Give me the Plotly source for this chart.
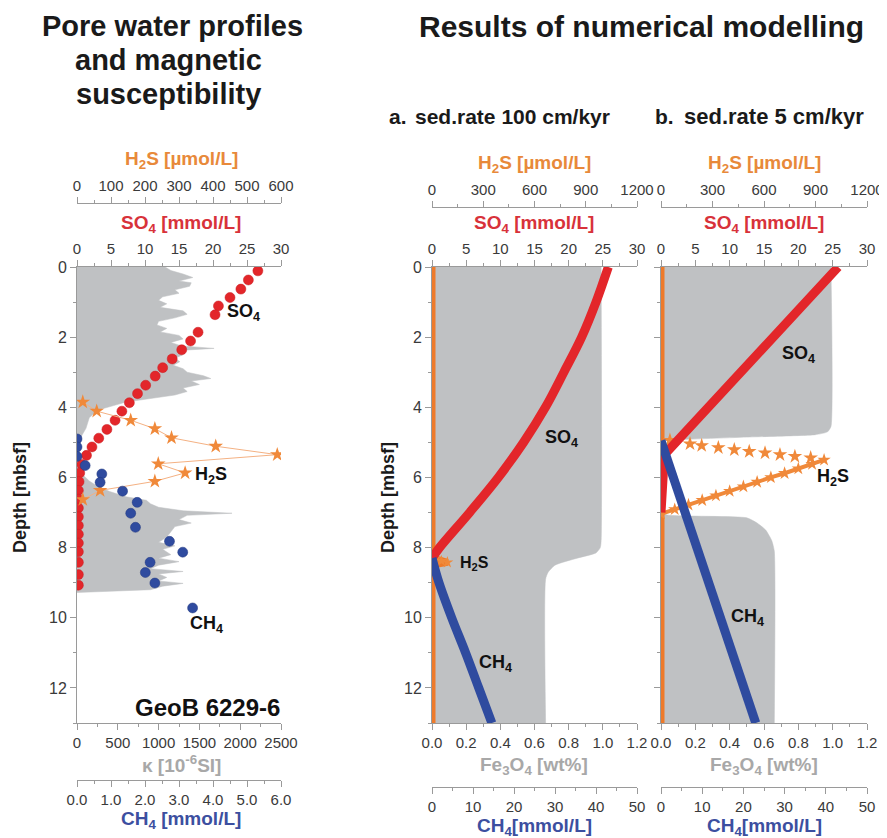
import plotly.graph_objects as go

# The page body has an 8 px margin; positions below are in window pixels, shifted by that offset
OFF = 8
W, H = 887, 838
FONT = "Liberation Sans, Arial, sans-serif"

def fx(px):
    return (px - OFF) / W

def fy(py):
    return 1 - (py - OFF) / H

# ---------------- data: measured core GeoB 6229-6 ----------------
kappa_depth = [0.00, 0.10, 0.20, 0.30, 0.40, 0.45, 0.55, 0.65, 0.75, 0.85, 0.95, 1.05, 1.15, 1.25,
               1.35, 1.45, 1.55, 1.65, 1.75, 1.85, 1.95, 2.05, 2.15, 2.25, 2.32, 2.38, 2.50, 2.60,
               2.70, 2.80, 2.90, 3.00, 3.10, 3.18, 3.25, 3.35, 3.45, 3.55, 3.65, 3.75, 3.85, 3.95,
               4.05, 4.15, 4.30, 4.45, 4.60, 4.80, 5.00, 5.30, 5.60, 5.90, 6.10, 6.25, 6.40, 6.55,
               6.65, 6.75, 6.85, 6.95, 7.02, 7.08, 7.20, 7.30, 7.40, 7.55, 7.70, 7.85, 7.95, 8.05,
               8.20, 8.30, 8.40, 8.50, 8.60, 8.68, 8.75, 8.85, 8.95, 9.02, 9.10, 9.20, 9.28]
kappa_value = [1080, 1150, 1300, 1420, 1250, 1400, 1380, 1200, 1250, 1050, 1000, 1100, 1020, 1300,
               1350, 1200, 1000, 980, 1100, 1020, 1250, 1300, 1150, 1280, 1680, 1250, 1300, 1200,
               1260, 1180, 1300, 1350, 1550, 1640, 1400, 1500, 1300, 1350, 1200, 900, 600, 450,
               300, 220, 150, 130, 110, 60, 40, 30, 40, 60, 150, 250, 400, 600,
               850, 900, 1000, 1300, 1900, 1350, 1250, 1400, 1200, 1150, 1100, 1000, 1200, 1050,
               1150, 1000, 1250, 1000, 900, 1300, 1000, 1100, 1000, 1300, 1050, 900, 0]

so4_depth = [0.11, 0.37, 0.63, 0.87, 1.11, 1.36, 1.86, 2.11, 2.36, 2.62, 2.87, 3.11, 3.37, 3.61,
             3.87, 4.11, 4.37, 4.63, 4.88, 5.13, 5.37, 5.63, 5.87, 6.12, 6.37, 6.62, 6.87, 7.12,
             7.37, 7.62, 7.87, 8.12, 8.42, 8.77, 9.07]
so4_value = [26.6, 25.2, 24.1, 22.5, 20.8, 20.3, 17.8, 16.7, 15.4, 14.0, 12.6, 11.5, 10.1, 8.9,
             7.7, 6.6, 5.6, 4.4, 3.2, 2.2, 1.4, 0.7, 0.4, 0.3, 0.2, 0.2, 0.2, 0.2,
             0.2, 0.2, 0.2, 0.2, 0.2, 0.2, 0.2]

h2s_depth = [3.85, 4.11, 4.37, 4.61, 4.87, 5.11, 5.35, 5.61, 5.87, 6.11, 6.37, 6.63]
h2s_value = [17, 58, 158, 229, 278, 408, 589, 239, 318, 229, 68, 17]

ch4_depth = [4.90, 5.13, 5.40, 5.66, 5.90, 6.14, 6.39, 6.71, 7.02, 7.42, 7.82, 8.13, 8.42, 8.71, 9.01, 9.72]
ch4_value = [0.0, 0.0, 0.0, 0.24, 0.73, 0.68, 1.34, 1.77, 1.58, 1.72, 2.72, 3.11, 2.15, 2.01, 2.29, 3.40]

# ---------------- data: model a (100 cm/kyr) ----------------
a_fe_depth = [0.0, 7.8, 8.0, 8.15, 8.3, 8.5, 8.7, 8.9, 13.0]
a_fe_value = [0.99, 0.99, 0.985, 0.96, 0.85, 0.72, 0.68, 0.665, 0.665]
a_so4_depth = [0.0, 1.0, 2.0, 3.0, 4.0, 5.0, 6.0, 7.0, 8.0, 8.3]
a_so4_value = [25.8, 24.0, 21.9, 19.3, 16.6, 13.4, 9.7, 5.5, 1.1, 0.0]
a_h2s_depth = [0.0, 8.25, 8.32, 8.38, 8.42, 8.5, 13.0]
a_h2s_value = [0, 0, 20, 55, 90, 0, 0]
a_ch4_depth = [8.3, 9.0, 10.0, 11.0, 12.0, 13.0]
a_ch4_value = [0.0, 1.7, 4.8, 8.2, 11.4, 14.6]

# ---------------- data: model b (5 cm/kyr) ----------------
b_fe_depth = [0.0, 4.55, 4.70, 4.78, 4.85, 4.95, 5.00, 7.00, 7.08, 7.15, 7.30, 7.50, 7.80, 8.10, 13.0]
b_fe_value = [0.99, 0.99, 0.97, 0.90, 0.50, 0.03, 0.0, 0.0, 0.05, 0.50, 0.56, 0.61, 0.645, 0.66, 0.66]
b_so4_depth = [0.0, 5.35, 7.0]
b_so4_value = [25.8, 0.5, 0.0]
b_h2s_col_depth = [0.0, 13.0]
b_h2s_col_value = [0, 0]
b_h2s_up_depth = [4.94, 5.04, 5.09, 5.15, 5.21, 5.26, 5.30, 5.35, 5.40, 5.44]
b_h2s_up_value = [52, 169, 237, 334, 427, 514, 606, 693, 780, 872]
b_h2s_dn_depth = [5.50, 5.62, 5.75, 5.88, 6.00, 6.13, 6.26, 6.39, 6.52, 6.65, 6.78, 6.91, 7.04]
b_h2s_dn_value = [950, 880, 800, 720, 640, 560, 480, 400, 320, 240, 160, 80, 0]
b_ch4_depth = [4.95, 13.0]
b_ch4_value = [0.0, 23.0]

RED = "#E3262A"
BLUE = "#2F4B9F"
ORANGE = "#F0893A"
GRAYFILL = "#BFC1C3"

fig = go.Figure()

# Left panel traces
fig.add_trace(go.Scatter(x=kappa_value, y=kappa_depth, xaxis="x", yaxis="y", mode="lines",
                         line=dict(color=GRAYFILL, width=0.5), fill="tozerox", fillcolor=GRAYFILL,
                         hoverinfo="skip", showlegend=False))
fig.add_trace(go.Scatter(x=so4_value, y=so4_depth, xaxis="x2", yaxis="y", mode="markers",
                         marker=dict(color=RED, size=10, line=dict(color="#C81E22", width=0.5)),
                         showlegend=False))
fig.add_trace(go.Scatter(x=h2s_value, y=h2s_depth, xaxis="x3", yaxis="y", mode="lines+markers",
                         line=dict(color="#F4B183", width=1),
                         marker=dict(symbol="star", color=ORANGE, size=11),
                         showlegend=False))
fig.add_trace(go.Scatter(x=ch4_value, y=ch4_depth, xaxis="x4", yaxis="y", mode="markers",
                         marker=dict(color=BLUE, size=10, line=dict(color="#23397F", width=0.5)),
                         showlegend=False))

# Panel a
fig.add_trace(go.Scatter(x=a_fe_value, y=a_fe_depth, xaxis="x5", yaxis="y2", mode="lines",
                         line=dict(color=GRAYFILL, width=0.5, shape="spline", smoothing=0.6),
                         fill="tozerox", fillcolor=GRAYFILL, hoverinfo="skip", showlegend=False))
fig.add_trace(go.Scatter(x=a_h2s_value, y=a_h2s_depth, xaxis="x6", yaxis="y2", mode="lines",
                         line=dict(color="#EE7A2A", width=7), showlegend=False))
fig.add_trace(go.Scatter(x=a_h2s_value[2:5], y=a_h2s_depth[2:5], xaxis="x6", yaxis="y2", mode="markers",
                         marker=dict(symbol="star", color=ORANGE, size=9), showlegend=False))
fig.add_trace(go.Scatter(x=a_so4_value, y=a_so4_depth, xaxis="x7", yaxis="y2", mode="lines",
                         line=dict(color=RED, width=9, shape="spline"), showlegend=False))
fig.add_trace(go.Scatter(x=a_ch4_value, y=a_ch4_depth, xaxis="x8", yaxis="y2", mode="lines",
                         line=dict(color=BLUE, width=9, shape="spline"), showlegend=False))

# Panel b
fig.add_trace(go.Scatter(x=b_fe_value, y=b_fe_depth, xaxis="x9", yaxis="y3", mode="lines",
                         line=dict(color=GRAYFILL, width=0.5, shape="spline", smoothing=0.5),
                         fill="tozerox", fillcolor=GRAYFILL, hoverinfo="skip", showlegend=False))
fig.add_trace(go.Scatter(x=b_h2s_col_value, y=b_h2s_col_depth, xaxis="x10", yaxis="y3", mode="lines",
                         line=dict(color="#EE7A2A", width=7), showlegend=False))
fig.add_trace(go.Scatter(x=b_h2s_up_value, y=b_h2s_up_depth, xaxis="x10", yaxis="y3", mode="markers",
                         marker=dict(symbol="star", color=ORANGE, size=11), showlegend=False))
fig.add_trace(go.Scatter(x=b_h2s_dn_value, y=b_h2s_dn_depth, xaxis="x10", yaxis="y3", mode="lines+markers",
                         line=dict(color=ORANGE, width=4),
                         marker=dict(symbol="star", color=ORANGE, size=10), showlegend=False))
fig.add_trace(go.Scatter(x=b_so4_value, y=b_so4_depth, xaxis="x11", yaxis="y3", mode="lines",
                         line=dict(color=RED, width=9), showlegend=False))
fig.add_trace(go.Scatter(x=b_ch4_value, y=b_ch4_depth, xaxis="x12", yaxis="y3", mode="lines",
                         line=dict(color=BLUE, width=9), showlegend=False))

AX = "#9A9A9A"
TICKFONT = dict(size=15, color="#3A3A3A", family=FONT)

def xax(dom, rng, dtick, mdtick, side, anchor, position=None, overlaying=None, fmt=None):
    d = dict(domain=dom, range=rng, dtick=dtick, tick0=0, side=side, anchor=anchor,
             automargin=False,
             showgrid=False, zeroline=False, showline=True, linecolor=AX, linewidth=1,
             ticks="outside", ticklen=6, tickcolor=AX, tickwidth=1,
             tickfont=TICKFONT,
             minor=dict(ticks="outside", ticklen=3, tickcolor=AX, dtick=mdtick, tick0=0, showgrid=False))
    if position is not None:
        d["position"] = position
    if overlaying is not None:
        d["overlaying"] = overlaying
    if fmt is not None:
        d["tickformat"] = fmt
    return d

YDOM = [fy(723), fy(267)]
L = [fx(77), fx(281)]
A = [fx(432), fx(637)]
B = [fx(661), fx(867)]
H2S_POS_L = fy(203)
H2S_POS_R = fy(207)
CH4_POS_L = fy(780)
CH4_POS_R = fy(787)

def yax(dom_x_anchor, labels=True):
    return dict(domain=YDOM, range=[13, 0], dtick=2, tick0=0, anchor=dom_x_anchor,
                automargin=False,
                showgrid=False, zeroline=False, showline=True, linecolor=AX, linewidth=1,
                ticks="outside", ticklen=6, tickcolor=AX, showticklabels=labels,
                tickfont=dict(size=16, color="#3A3A3A", family=FONT),
                minor=dict(ticks="outside", ticklen=3, tickcolor=AX, dtick=1, tick0=0, showgrid=False))

fig.update_layout(
    template="none",
    width=W, height=H, autosize=False,
    margin=dict(l=0, r=0, t=0, b=0, pad=0, autoexpand=False),
    paper_bgcolor="white", plot_bgcolor="rgba(0,0,0,0)", showlegend=False,
    font=dict(family=FONT, color="#222"),
    xaxis=xax(L, [0, 2500], 500, 250, "bottom", "y"),
    xaxis2=xax(L, [0, 30], 5, 2.5, "top", "y", overlaying="x"),
    xaxis3=xax(L, [0, 600], 100, 50, "top", "free", position=H2S_POS_L, overlaying="x"),
    xaxis4=xax(L, [0, 6], 1, 0.5, "bottom", "free", position=CH4_POS_L, overlaying="x", fmt=".1f"),
    xaxis5=xax(A, [0, 1.2], 0.2, 0.1, "bottom", "y2", fmt=".1f"),
    xaxis6=xax(A, [0, 1200], 300, 150, "top", "free", position=H2S_POS_R, overlaying="x5"),
    xaxis7=xax(A, [0, 30], 5, 2.5, "top", "y2", overlaying="x5"),
    xaxis8=xax(A, [0, 50], 10, 5, "bottom", "free", position=CH4_POS_R, overlaying="x5"),
    xaxis9=xax(B, [0, 1.2], 0.2, 0.1, "bottom", "y3", fmt=".1f"),
    xaxis10=xax(B, [0, 1200], 300, 150, "top", "free", position=H2S_POS_R, overlaying="x9"),
    xaxis11=xax(B, [0, 30], 5, 2.5, "top", "y3", overlaying="x9"),
    xaxis12=xax(B, [0, 50], 10, 5, "bottom", "free", position=CH4_POS_R, overlaying="x9"),
    yaxis=yax("x"),
    yaxis2=yax("x5"),
    yaxis3=yax("x9", labels=False),
)

ann = []

def pa(text, px, py, size, color="#1A1A1A", bold=True, xanchor="center", yanchor="middle", textangle=0):
    t = f"<b>{text}</b>" if bold else text
    ann.append(dict(text=t, x=fx(px), y=fy(py), xref="paper", yref="paper", showarrow=False,
                    xanchor=xanchor, yanchor=yanchor, textangle=textangle,
                    font=dict(size=size, color=color, family=FONT)))

def da(text, x, y, xref, yref, size=18, color="#111"):
    ann.append(dict(text=f"<b>{text}</b>", x=x, y=y, xref=xref, yref=yref, showarrow=False,
                    xanchor="center", yanchor="middle", font=dict(size=size, color=color, family=FONT)))

# Headings
pa("Pore water profiles", 172, 26, 29)
pa("and magnetic", 168, 60, 29)
pa("susceptibility", 168, 94, 29)
pa("Results of numerical modelling", 641, 26, 30)
pa("a.", 387, 117, 21, xanchor="left")
pa("sed.rate 100 cm/kyr", 413, 117, 21, xanchor="left")
pa("b.", 653, 117, 21, xanchor="left")
pa("sed.rate 5 cm/kyr", 682, 117, 22, xanchor="left")

# Axis titles
H2S_C = "#E8893A"
SO4_C = "#D8323A"
GRY_C = "#A8A8A8"
CH4_C = "#3C4FA0"
for cx, top_h2s, bot_fe, bot_ch4, is_left in [(181, 160, 764, 820, True), (534, 164, 766, 827, False), (764, 164, 766, 827, False)]:
    pa("H<sub>2</sub>S [µmol/L]", cx, top_h2s, 19, color=H2S_C)
    pa("SO<sub>4</sub> [mmol/L]", cx, 224, 19, color=SO4_C)
    if is_left:
        pa("κ [10<sup>-6</sup>SI]", cx, bot_fe, 19, color=GRY_C)
        pa("CH<sub>4</sub> [mmol/L]", cx, bot_ch4, 19, color=CH4_C)
    else:
        pa("Fe<sub>3</sub>O<sub>4</sub> [wt%]", cx, bot_fe, 19, color=GRY_C)
        pa("CH<sub>4</sub>[mmol/L]", cx, bot_ch4, 19, color=CH4_C)

pa("Depth [mbsf]", 20, 498, 18, textangle=-90)
pa("Depth [mbsf]", 388, 498, 18, textangle=-90)
pa("GeoB 6229-6", 207, 707, 24, color="#111")

# In-plot labels (data coordinates)
da("SO<sub>4</sub>", 24.5, 1.3, "x2", "y")
da("H<sub>2</sub>S", 395, 5.95, "x3", "y")
da("CH<sub>4</sub>", 3.8, 10.2, "x4", "y")
da("SO<sub>4</sub>", 19.0, 4.9, "x7", "y2")
da("H<sub>2</sub>S", 0.25, 8.45, "x5", "y2", size=16)
da("CH<sub>4</sub>", 15.5, 11.3, "x8", "y2")
da("SO<sub>4</sub>", 20.0, 2.5, "x11", "y3")
da("H<sub>2</sub>S", 1000, 6.0, "x10", "y3")
da("CH<sub>4</sub>", 21.0, 10.0, "x12", "y3")

fig.update_layout(annotations=ann)
fig.write_html("out.html")
